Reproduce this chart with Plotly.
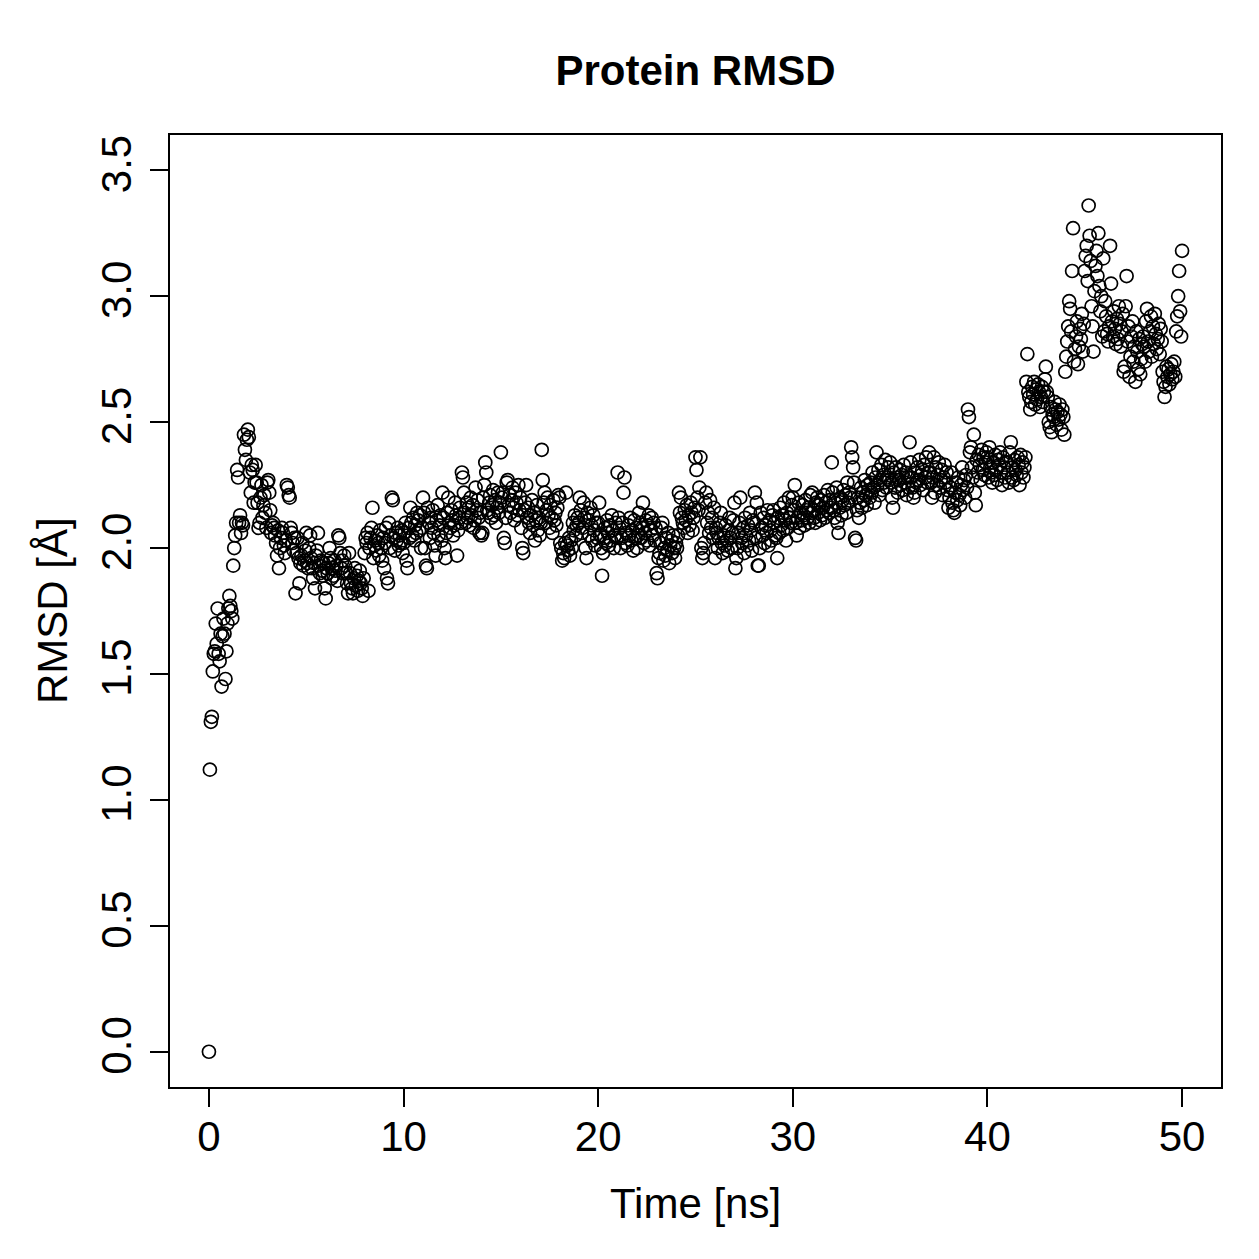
import plotly.graph_objects as go

title_text = "Protein RMSD"
x_label = "Time [ns]"
y_label = "RMSD [Å]"
x_ticks = [0, 10, 20, 30, 40, 50]
y_ticks = [0.0, 0.5, 1.0, 1.5, 2.0, 2.5, 3.0, 3.5]
time_step_ns = 0.05

# RMSD values (Å), 20 frames per ns
rmsd = [
    0.00, 1.12, 1.31, 1.33, 1.51, 1.58, 1.59, 1.70, 1.62, 1.76, 1.58, 1.55, 1.66, 1.45, 1.65, 1.72, 1.66, 1.48, 1.59, 1.70,
    1.76, 1.81, 1.77, 1.75, 1.72, 1.93, 2.00, 2.05, 2.10, 2.31, 2.28, 2.10, 2.13, 2.06, 2.10, 2.09, 2.45, 2.39, 2.35, 2.43,
    2.47, 2.44, 2.30, 2.22, 2.33, 2.31, 2.18, 2.26, 2.33, 2.26, 2.18, 2.08, 2.10, 2.20, 2.25, 2.12, 2.17, 2.21, 2.14, 2.08,
    2.26, 2.27, 2.22, 2.15, 2.06, 2.09, 2.10, 2.08, 2.05, 2.02, 1.97, 2.07, 1.92, 2.00, 2.04, 2.08, 2.06, 2.01, 1.98, 2.03,
    2.25, 2.24, 2.21, 2.20, 2.08, 2.06, 2.02, 1.99, 2.04, 1.82, 1.98, 2.04, 1.96, 1.86, 1.94, 1.97, 2.02, 1.93, 1.95, 1.99,
    2.06, 1.94, 1.92, 2.00, 2.05, 1.96, 1.92, 1.88, 1.94, 1.84, 1.97, 1.99, 2.06, 1.93, 1.90, 1.95, 1.91, 1.89, 1.94, 1.84,
    1.80, 1.92, 1.90, 1.94, 2.00, 1.96, 1.88, 1.92, 1.89, 1.95, 1.91, 1.93, 1.87, 2.05, 2.04, 1.98, 1.92, 1.95, 1.90, 1.97,
    1.93, 1.90, 1.86, 1.82, 1.98, 1.90, 1.86, 1.84, 1.82, 1.88, 1.92, 1.85, 1.89, 1.83, 1.87, 1.91, 1.86, 1.84, 1.81, 1.88,
    1.98, 2.04, 2.02, 2.06, 1.83, 2.00, 2.04, 2.08, 2.16, 1.96, 2.01, 2.03, 1.99, 2.05, 2.02, 1.97, 2.07, 2.00, 1.95, 2.04,
    1.92, 2.02, 2.08, 1.88, 1.86, 2.10, 2.00, 2.05, 2.20, 2.19, 2.04, 1.99, 2.06, 2.03, 2.08, 2.01, 2.05, 2.02, 2.07, 1.98,
    2.02, 2.06, 2.10, 1.95, 1.92, 2.08, 2.04, 2.16, 2.10, 2.05, 2.12, 2.03, 2.09, 2.06, 2.14, 2.11, 2.07, 2.13, 2.00, 2.08,
    2.20, 2.14, 2.00, 1.93, 1.92, 2.16, 2.10, 2.04, 2.12, 2.08, 2.15, 2.06, 2.01, 1.97, 2.11, 2.17, 2.05, 2.09, 2.13, 2.03,
    2.22, 2.12, 2.00, 1.96, 2.06, 2.14, 2.20, 2.10, 2.08, 2.15, 2.11, 2.05, 2.09, 2.18, 2.13, 1.97, 2.07, 2.12, 2.16, 2.10,
    2.30, 2.28, 2.22, 2.14, 2.10, 2.18, 2.12, 2.16, 2.09, 2.20, 2.13, 2.17, 2.08, 2.11, 2.24, 2.15, 2.19, 2.12, 2.06, 2.14,
    2.05, 2.06, 2.20, 2.25, 2.34, 2.30, 2.15, 2.14, 2.18, 2.21, 2.12, 2.17, 2.23, 2.13, 2.19, 2.10, 2.16, 2.22, 2.14, 2.18,
    2.38, 2.20, 2.22, 2.04, 2.02, 2.12, 2.26, 2.27, 2.17, 2.21, 2.14, 2.19, 2.24, 2.16, 2.11, 2.22, 2.18, 2.13, 2.25, 2.15,
    2.20, 2.08, 2.00, 1.98, 2.15, 2.18, 2.25, 2.12, 2.16, 2.10, 2.06, 2.13, 2.19, 2.09, 2.14, 2.03, 2.11, 2.17, 2.07, 2.12,
    2.05, 2.10, 2.39, 2.27, 2.18, 2.22, 2.10, 2.15, 2.20, 2.13, 2.08, 2.17, 2.12, 2.06, 2.19, 2.11, 2.14, 2.09, 2.16, 2.21,
    2.20, 2.02, 2.00, 1.95, 1.98, 1.96, 2.02, 2.22, 2.01, 1.99, 2.04, 1.97, 2.03, 2.00, 2.10, 2.07, 2.13, 2.05, 2.09, 2.12,
    2.10, 2.20, 2.15, 2.06, 2.08, 2.18, 2.12, 2.00, 1.96, 2.14, 2.11, 2.05, 2.16, 2.09, 2.03, 2.13, 2.07, 2.01, 2.10, 2.04,
    2.10, 2.18, 2.05, 2.00, 1.89, 1.98, 2.04, 2.08, 2.02, 2.11, 2.06, 2.01, 2.09, 2.03, 2.13, 2.07, 2.00, 2.05, 2.10, 2.04,
    2.30, 2.12, 2.08, 2.00, 2.04, 2.10, 2.22, 2.28, 2.02, 2.06, 2.01, 2.09, 2.05, 2.12, 2.03, 2.07, 1.99, 2.11, 2.04, 2.08,
    2.00, 2.05, 2.14, 2.10, 2.04, 2.08, 2.18, 2.02, 2.06, 2.11, 2.03, 2.09, 2.13, 2.01, 2.07, 2.12, 2.05, 2.10, 2.03, 2.08,
    1.90, 1.88, 1.96, 1.98, 2.02, 2.08, 2.10, 1.95, 2.00, 1.97, 2.04, 1.99, 2.06, 1.94, 2.01, 2.03, 1.98, 2.05, 2.00, 1.96,
    2.02, 2.00, 2.05, 2.22, 2.14, 2.20, 2.12, 2.10, 2.08, 2.15, 2.11, 2.17, 2.06, 2.13, 2.09, 2.18, 2.14, 2.07, 2.12, 2.16,
    2.36, 2.31, 2.20, 2.15, 2.24, 2.36, 2.00, 1.96, 1.98, 2.02, 2.18, 2.22, 2.10, 2.14, 2.06, 2.19, 2.08, 2.12, 2.04, 2.16,
    1.96, 2.08, 2.06, 2.00, 2.04, 2.10, 2.14, 2.02, 1.98, 2.05, 2.01, 2.09, 2.03, 1.99, 2.07, 2.12, 2.04, 2.00, 2.06, 2.11,
    2.18, 1.92, 1.96, 2.00, 2.06, 2.10, 2.20, 2.04, 2.02, 2.08, 1.98, 2.12, 2.05, 2.01, 2.09, 2.03, 2.14, 2.07, 1.99, 2.11,
    2.10, 2.22, 2.04, 2.18, 1.93, 1.93, 2.00, 2.14, 2.08, 2.05, 2.12, 2.02, 2.09, 2.06, 2.15, 2.01, 2.11, 2.07, 2.03, 2.13,
    2.15, 2.10, 2.05, 2.04, 1.96, 2.12, 2.06, 2.16, 2.09, 2.13, 2.07, 2.18, 2.11, 2.03, 2.14, 2.08, 2.20, 2.12, 2.10, 2.17,
    2.20, 2.15, 2.25, 2.10, 2.05, 2.12, 2.18, 2.08, 2.14, 2.11, 2.17, 2.13, 2.09, 2.19, 2.15, 2.12, 2.16, 2.10, 2.21, 2.14,
    2.22, 2.15, 2.12, 2.10, 2.18, 2.20, 2.14, 2.17, 2.11, 2.19, 2.13, 2.16, 2.21, 2.12, 2.18, 2.15, 2.23, 2.14, 2.19, 2.16,
    2.34, 2.22, 2.15, 2.12, 2.18, 2.24, 2.10, 2.06, 2.16, 2.20, 2.13, 2.19, 2.23, 2.17, 2.21, 2.14, 2.26, 2.18, 2.22, 2.20,
    2.40, 2.36, 2.32, 2.26, 2.04, 2.03, 2.15, 2.20, 2.12, 2.18, 2.24, 2.16, 2.22, 2.19, 2.27, 2.21, 2.17, 2.25, 2.23, 2.20,
    2.26, 2.22, 2.30, 2.24, 2.18, 2.28, 2.38, 2.25, 2.31, 2.21, 2.27, 2.33, 2.23, 2.29, 2.26, 2.35, 2.24, 2.28, 2.32, 2.27,
    2.34, 2.26, 2.20, 2.16, 2.30, 2.24, 2.32, 2.28, 2.22, 2.27, 2.31, 2.25, 2.29, 2.23, 2.33, 2.26, 2.30, 2.21, 2.28, 2.24,
    2.42, 2.34, 2.28, 2.24, 2.20, 2.22, 2.30, 2.26, 2.32, 2.27, 2.35, 2.25, 2.29, 2.31, 2.23, 2.33, 2.28, 2.36, 2.26, 2.30,
    2.38, 2.30, 2.26, 2.20, 2.28, 2.36, 2.22, 2.32, 2.25, 2.29, 2.34, 2.24, 2.27, 2.31, 2.21, 2.28, 2.33, 2.26, 2.30, 2.23,
    2.16, 2.20, 2.24, 2.30, 2.18, 2.15, 2.14, 2.22, 2.26, 2.19, 2.28, 2.21, 2.17, 2.25, 2.32, 2.23, 2.27, 2.20, 2.29, 2.24,
    2.55, 2.52, 2.38, 2.40, 2.32, 2.28, 2.45, 2.22, 2.17, 2.35, 2.30, 2.37, 2.33, 2.27, 2.39, 2.31, 2.36, 2.29, 2.34, 2.38,
    2.36, 2.28, 2.40, 2.32, 2.30, 2.26, 2.34, 2.29, 2.37, 2.31, 2.27, 2.35, 2.33, 2.38, 2.30, 2.25, 2.36, 2.32, 2.28, 2.34,
    2.34, 2.30, 2.26, 2.38, 2.42, 2.28, 2.32, 2.27, 2.35, 2.31, 2.29, 2.36, 2.33, 2.25, 2.37, 2.30, 2.34, 2.28, 2.32, 2.36,
    2.66, 2.77, 2.62, 2.60, 2.55, 2.58, 2.64, 2.61, 2.66, 2.57, 2.63, 2.59, 2.65, 2.62, 2.56, 2.60, 2.64, 2.58, 2.62, 2.67,
    2.72, 2.62, 2.60, 2.50, 2.48, 2.56, 2.46, 2.53, 2.52, 2.58, 2.55, 2.49, 2.54, 2.51, 2.57, 2.53, 2.47, 2.55, 2.52, 2.45,
    2.70, 2.76, 2.82, 2.88, 2.98, 2.95, 2.86, 3.10, 3.27, 2.74, 2.79, 2.84, 2.90, 2.73, 2.80, 2.87, 2.83, 2.93, 2.78, 2.89,
    3.10, 3.16, 3.20, 3.06, 3.36, 3.24, 3.14, 2.96, 2.88, 2.78, 3.02, 3.12, 3.18, 3.08, 3.25, 3.04, 2.94, 3.00, 2.84, 3.15,
    2.86, 2.98, 2.92, 2.85, 2.82, 2.88, 3.20, 3.05, 2.90, 2.84, 2.94, 2.87, 2.81, 2.91, 2.83, 2.96, 2.89, 2.80, 2.86, 2.93,
    2.70, 2.72, 2.96, 3.08, 2.82, 2.88, 2.68, 2.76, 2.84, 2.90, 2.74, 2.80, 2.66, 2.86, 2.78, 2.71, 2.83, 2.69, 2.75, 2.81,
    2.84, 2.80, 2.74, 2.90, 2.95, 2.82, 2.78, 2.86, 2.92, 2.76, 2.88, 2.81, 2.93, 2.85, 2.79, 2.83, 2.89, 2.77, 2.87, 2.82,
    2.70, 2.66, 2.60, 2.64, 2.72, 2.68, 2.71, 2.65, 2.69, 2.73, 2.67, 2.70, 2.74, 2.68, 2.86, 2.92, 3.00, 3.10, 2.94, 2.84,
    3.18,
]
time_ns = [round(i * time_step_ns, 2) for i in range(len(rmsd))]

FONT = "Liberation Sans, Arial, Helvetica, sans-serif"
FS = 42

fig = go.Figure(
    go.Scatter(
        x=time_ns, y=rmsd, mode="markers",
        marker=dict(symbol="circle-open", size=13, color="black",
                    line=dict(width=1.7, color="black")),
        showlegend=False,
    )
)

axis_common = dict(
    showline=True, linewidth=2, linecolor="black", mirror=True,
    ticks="outside", ticklen=18, tickwidth=2, tickcolor="black",
    showgrid=False, zeroline=False,
    tickfont=dict(family=FONT, size=FS, color="black"),
)

fig.update_layout(
    width=1259, height=1259,
    margin=dict(l=170, r=38, t=135, b=172),
    paper_bgcolor="white", plot_bgcolor="white",
    font=dict(family=FONT, color="black"),
    title=dict(text="<b>" + title_text + "</b>", x=(170 + 1221) / 2 / 1259, xanchor="center",
               y=1 - 70 / 1259, yanchor="middle", yref="container",
               font=dict(family=FONT, size=FS, color="black")),
    xaxis=dict(range=[-2, 52], tickvals=x_ticks, ticktext=[str(v) for v in x_ticks],
               ticklabelstandoff=-6, **axis_common),
    yaxis=dict(range=[-0.14, 3.64], tickvals=y_ticks, ticktext=[f"{v:.1f}" for v in y_ticks],
               tickangle=-90, ticklabelstandoff=2, **axis_common),
    annotations=[
        dict(text=x_label, xref="paper", yref="paper", x=0.5, y=0, yshift=-116,
             xanchor="center", yanchor="middle", showarrow=False,
             font=dict(family=FONT, size=FS, color="black")),
        dict(text=y_label, xref="paper", yref="paper", x=0, y=0.5, xshift=-118,
             xanchor="center", yanchor="middle", textangle=-90, showarrow=False,
             font=dict(family=FONT, size=FS, color="black")),
    ],
)

fig.write_html("out.html")
